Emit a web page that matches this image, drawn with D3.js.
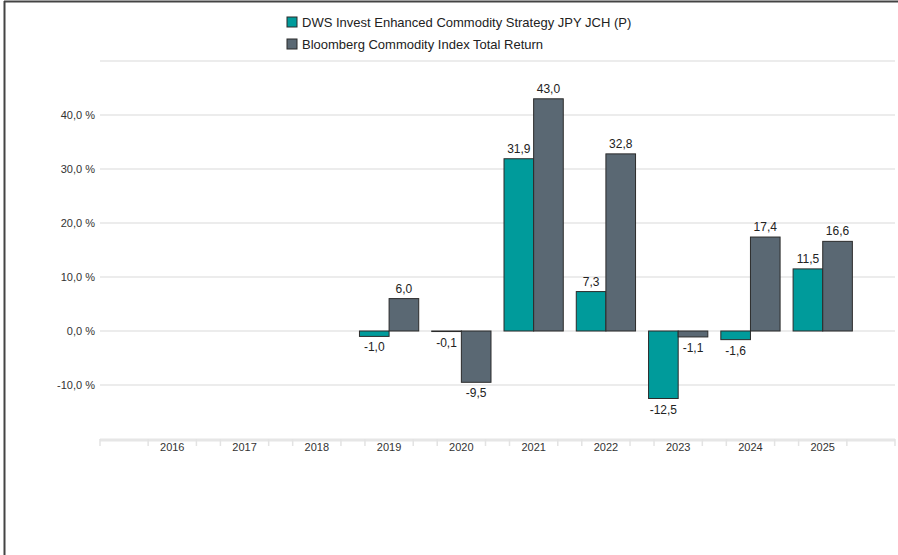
<!DOCTYPE html>
<html>
<head>
<meta charset="utf-8">
<script src="https://cdnjs.cloudflare.com/ajax/libs/d3/7.8.5/d3.min.js"></script>
<style>
  body { margin: 0; background: #fff; }
  svg { display: block; font-family: "Liberation Sans", Arial, sans-serif; }
</style>
</head>
<body>
<div id="chart"></div>
<script>
var years = ["2016", "2017", "2018", "2019", "2020", "2021", "2022", "2023", "2024", "2025"];
var seriesNames = ["DWS Invest Enhanced Commodity Strategy JPY JCH (P)", "Bloomberg Commodity Index Total Return"];
var fundValues = [null, null, null, -1.0, -0.1, 31.9, 7.3, -12.5, -1.6, 11.5];
var indexValues = [null, null, null, 6.0, -9.5, 43.0, 32.8, -1.1, 17.4, 16.6];
var yTicks = [-20, -10, 0, 10, 20, 30, 40, 50];
var yLabelTicks = [-10, 0, 10, 20, 30, 40];
var colors = ["#009b9b", "#5a6873"];

var width = 898, height = 555;
var svg = d3.select("#chart").append("svg")
    .attr("width", width)
    .attr("height", height);

// frame
svg.append("line").attr("x1", 4.5).attr("x2", 4.5).attr("y1", 1).attr("y2", height)
    .attr("stroke", "#444").attr("stroke-width", 2);
svg.append("line").attr("x1", 4).attr("x2", width).attr("y1", 1.5).attr("y2", 1.5)
    .attr("stroke", "#444").attr("stroke-width", 2);

var x = d3.scaleBand().domain(years).range([100, 895])
    .paddingInner(0.18).paddingOuter(0.59);
var y = d3.scaleLinear().domain([-20, 50]).range([439, 61]);

// german style number, plain hyphen for minus
var fmt = function(v) { return d3.format(".1f")(v).replace(".", ",").replace("\u2212", "-"); };

// gridlines
svg.append("g").selectAll("line").data(yTicks.slice(1)).enter().append("line")
    .attr("x1", 100).attr("x2", 895)
    .attr("y1", function(d) { return y(d); }).attr("y2", function(d) { return y(d); })
    .attr("stroke", "#e6e6e6").attr("stroke-width", 1.5);

// y labels
svg.append("g").selectAll("text").data(yLabelTicks).enter().append("text")
    .attr("x", 95).attr("y", function(d) { return y(d); })
    .attr("dy", "0.35em")
    .attr("text-anchor", "end")
    .attr("font-size", 11)
    .attr("fill", "#333")
    .text(function(d) { return fmt(d) + " %"; });

// x axis line and ticks
svg.append("line").attr("x1", 100).attr("x2", 895).attr("y1", y(-20) + 1).attr("y2", y(-20) + 1)
    .attr("stroke", "#e6e6e6").attr("stroke-width", 3);
var tickX = [100, 895];
years.forEach(function(yr) {
    var c = x(yr) + x.bandwidth() / 2;
    tickX.push(c - x.step() / 2 + 12, c + x.step() / 2 - 12);
});
svg.append("g").selectAll("line").data(tickX).enter().append("line")
    .attr("x1", function(d) { return d; }).attr("x2", function(d) { return d; })
    .attr("y1", y(-20)).attr("y2", y(-20) + 7)
    .attr("stroke", "#e3e3e3").attr("stroke-width", 1.5);
svg.append("g").selectAll("text").data(years).enter().append("text")
    .attr("x", function(d) { return x(d) + x.bandwidth() / 2; })
    .attr("y", 451)
    .attr("text-anchor", "middle")
    .attr("font-size", 11)
    .attr("fill", "#333")
    .text(function(d) { return d; });

// bars
var xs = d3.scaleBand().domain([0, 1]).range([0, x.bandwidth()]);
var data = [];
years.forEach(function(yr, i) {
    [fundValues[i], indexValues[i]].forEach(function(v, s) {
        if (v !== null) data.push({ year: yr, s: s, v: v });
    });
});
var bars = svg.append("g");
bars.selectAll("rect").data(data).enter().append("rect")
    .attr("x", function(d) { return x(d.year) + xs(d.s); })
    .attr("width", xs.bandwidth())
    .attr("y", function(d) { return y(Math.max(0, d.v)); })
    .attr("height", function(d) { return Math.abs(y(d.v) - y(0)); })
    .attr("fill", function(d) { return colors[d.s]; })
    .attr("stroke", "#2b2b2b").attr("stroke-width", 1);
bars.selectAll("text").data(data).enter().append("text")
    .attr("x", function(d) { return x(d.year) + xs(d.s) + xs.bandwidth() / 2; })
    .attr("y", function(d) { return d.v >= 0 ? y(d.v) - 6 : y(d.v) + 15; })
    .attr("text-anchor", "middle")
    .attr("font-size", 12)
    .attr("fill", "#222")
    .text(function(d) { return fmt(d.v); });

// legend
var legend = svg.append("g").selectAll("g").data(seriesNames).enter().append("g")
    .attr("transform", function(d, i) { return "translate(287," + (17 + i * 22) + ")"; });
legend.append("rect").attr("width", 10).attr("height", 10)
    .attr("fill", function(d, i) { return colors[i]; })
    .attr("stroke", "#2b2b2b").attr("stroke-width", 1);
legend.append("text").attr("x", 15).attr("y", 5).attr("dy", "0.35em")
    .attr("font-size", 13).attr("fill", "#222")
    .text(function(d) { return d; });
</script>
</body>
</html>
